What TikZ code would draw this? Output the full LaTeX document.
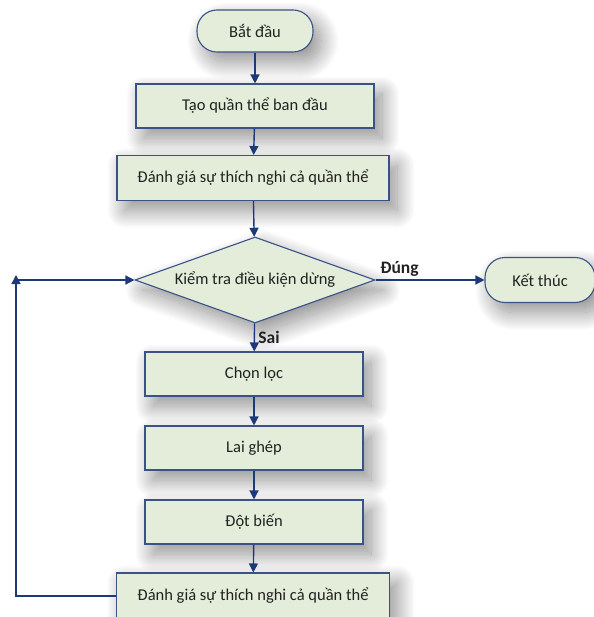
\documentclass[tikz,border=0pt]{standalone}
\usepackage{fontspec}
\setmainfont{Carlito}
\usetikzlibrary{shapes.geometric,shadows.blur,arrows.meta}

\definecolor{boxfill}{HTML}{E3EDD9}
\definecolor{boxline}{HTML}{3A5288}
\definecolor{flowline}{HTML}{1D3A78}
\definecolor{txt}{HTML}{222222}

\begin{document}
\begin{tikzpicture}
[x=1pt,y=-1pt,%
  every node/.style={text=txt,font=\fontsize{16.5}{18}\selectfont},%
  soft/.style={blur shadow={shadow xshift=8pt,shadow yshift=-10pt,shadow blur radius=18pt,shadow blur steps=25,shadow opacity=45}},%
  procbox/.style={rectangle,draw=boxline,fill=boxfill,line width=1.1pt,inner sep=0pt,soft},%
  termbox/.style={rectangle,rounded corners=20pt,draw=boxline,fill=boxfill,line width=1.1pt,inner sep=0pt,soft},%
  testbox/.style={diamond,aspect=2.8,draw=boxline,fill=boxfill,line width=1.1pt,inner sep=0pt,soft},%
  flow/.style={-{Triangle[length=9pt,width=9pt]},draw=flowline,line width=1.4pt},%
  tag/.style={font=\bfseries\fontsize{17.5}{19}\selectfont}]
\useasboundingbox (0,0) rectangle (593,617);

% terminators
\node[termbox,minimum width=116pt,minimum height=42pt] (start) at (255,31) {Bắt đầu};
\node[termbox,minimum width=110pt,minimum height=45pt] (stop) at (540,280) {Kết thúc};

% steps
\node[procbox,minimum width=238pt,minimum height=44pt] (init) at (255,106) {Tạo quần thể ban đầu};
\node[procbox,minimum width=272pt,minimum height=45pt] (eval1) at (253,178) {Đánh giá sự thích nghi cả quần thể};
\node[testbox,minimum width=240pt,minimum height=86pt] (check) at (255,280) {Kiểm tra điều kiện dừng};
\node[procbox,minimum width=218pt,minimum height=44pt] (select) at (254,374) {Chọn lọc};
\node[procbox,minimum width=218pt,minimum height=44pt] (cross) at (254,448) {Lai ghép};
\node[procbox,minimum width=218pt,minimum height=44pt] (mutate) at (254,522) {Đột biến};
\node[procbox,minimum width=273pt,minimum height=46pt] (eval2) at (253,596) {Đánh giá sự thích nghi cả quần thể};

\coordinate (corner) at (16,280);

\draw[flow] (start) -- (init);
\draw[flow] (init) -- (eval1);
\draw[flow] (eval1) -- (check);
\draw[flow] (check) -- (stop) node[tag,pos=0.22,above] (yes) {Đúng};
\draw[flow] (check) -- (select) node[tag,pos=0.5,right] (no) {Sai};
\draw[flow] (select) -- (cross);
\draw[flow] (cross) -- (mutate);
\draw[flow] (mutate) -- (eval2);
\draw[flow] (eval2.west) -| ([yshift=5pt]corner);
\draw[flow] (corner) -- (check.west);
\end{tikzpicture}
\end{document}
